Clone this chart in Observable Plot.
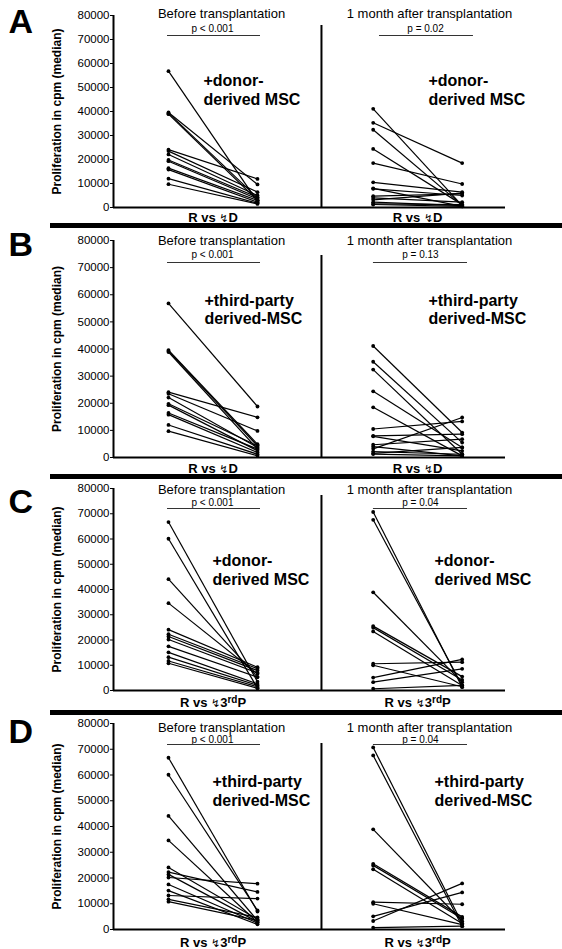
<!DOCTYPE html>
<html><head><meta charset="utf-8">
<script src="https://cdn.jsdelivr.net/npm/d3@7"></script>
<script src="https://cdn.jsdelivr.net/npm/@observablehq/plot@0.6"></script>
<style>
body{margin:0;background:#fff;font-family:"Liberation Sans",Arial,sans-serif;}
#wrap{width:562px;}
.bar{height:5px;background:#000;margin-left:50px;}
svg{display:block}
</style></head><body><div id="wrap"></div>
<script>
const FONT = '"Liberation Sans", Arial, sans-serif';
// ---- text labels ----
const panelLetters = ["A", "B", "C", "D"];
const timeTitles = ["Before transplantation", "1 month after transplantation"];
const yTicks = [0, 10000, 20000, 30000, 40000, 50000, 60000, 70000, 80000];
const yLabel = "Proliferation in cpm (median)";
const xLabels = ["R vs ↯D", "R vs ↯D", "R vs ↯3rdP", "R vs ↯3rdP"];
const annotations = ["+donor-\nderived MSC", "+third-party\nderived-MSC", "+donor-\nderived MSC", "+third-party\nderived-MSC"];
const pBefore = ["p < 0.001", "p < 0.001", "p < 0.001", "p < 0.001"];
const pAfter = ["p = 0.02", "p = 0.13", "p = 0.04", "p = 0.04"];

// ---- values (cpm, median) : responder alone (R) and with MSC ----
const respBefore_AB = [56800, 39600, 39300, 38900, 24100, 23500, 22100, 19800, 19300, 16400, 15800, 12000, 9700];
const A_mscBefore   = [2500, 9600, 4000, 3000, 11900, 6400, 5000, 4300, 3500, 3000, 2200, 1800, 1500];
const B_mscBefore   = [18800, 4900, 4300, 3100, 14800, 9800, 3700, 4300, 2500, 3100, 1850, 1200, 600];

const respAfter_AB = [41100, 35300, 32400, 24400, 18500, 10500, 8000, 7800, 4700, 4000, 3200, 2200, 1500, 1250];
const A_mscAfter   = [800, 18500, 1000, 1200, 9800, 6400, 500, 5000, 5700, 2200, 6000, 800, 1200, 500];
const B_mscAfter   = [9200, 5500, 1200, 3700, 600, 13300, 8600, 2450, 6750, 600, 14750, 1200, 3700, 600];

const respBefore_CD = [66700, 60100, 44100, 34600, 24100, 22300, 21400, 20200, 17500, 15100, 13200, 11700, 10800];
const C_mscBefore   = [3500, 1000, 5300, 6600, 9200, 8600, 7900, 7000, 5300, 2600, 2000, 1500, 900];
const D_mscBefore   = [7000, 7400, 3500, 2800, 4000, 14600, 3000, 17800, 2500, 2000, 12000, 4700, 3500];

const respAfter_CD = [70700, 67600, 38900, 25500, 24900, 23400, 10600, 10000, 5100, 3300, 700];
const C_mscAfter   = [1300, 2000, 3300, 5500, 4200, 2000, 11200, 1500, 12300, 8600, 2000];
const D_mscAfter   = [2300, 1300, 3200, 4900, 4300, 2300, 9800, 1900, 14400, 17900, 1300];

const panels = [
  {rb: respBefore_AB, mb: A_mscBefore, ra: respAfter_AB, ma: A_mscAfter},
  {rb: respBefore_AB, mb: B_mscBefore, ra: respAfter_AB, ma: B_mscAfter},
  {rb: respBefore_CD, mb: C_mscBefore, ra: respAfter_CD, ma: C_mscAfter},
  {rb: respBefore_CD, mb: D_mscBefore, ra: respAfter_CD, ma: D_mscAfter}
];

// ---- layout ----
const slots = {before: [0, 1], after: [2.3, 3.3]};
const xDomain = [-0.618, 3.787];
const dividerX = 1.719;
const layouts = [
  {h: 223, mt: 15, mbot: 16, letterDy: 17, titleDy: -2, pDy: 13, lineDy: 20, annDy: [74, 72.5], annX: [0.393, 2.921], pX: [0.494, 2.888], pLine: [[-0.011, 1.034], [2.371, 3.427]], divExt: 10, labelDy: 10},
  {h: 246, mt: 12, mbot: 17, letterDy: 15, titleDy: 0, pDy: 14, lineDy: 22, annDy: [68.5, 67.5], annX: [0.404, 2.921], pX: [0.494, 2.831], pLine: [[-0.011, 1.034], [2.303, 3.36]], divExt: 15, labelDy: 11},
  {h: 231, mt: 9, mbot: 20, letterDy: 24, titleDy: 1, pDy: 14, lineDy: 20, annDy: [81, 79.5], annX: [0.494, 2.989], pX: [0.494, 2.831], pLine: [[-0.011, 1.034], [2.303, 3.36]], divExt: 7, labelDy: 12},
  {h: 234, mt: 8, mbot: 20, letterDy: 19, titleDy: 4, pDy: 16, lineDy: 21, annDy: [67, 66.5], annX: [0.494, 2.989], pX: [0.494, 2.831], pLine: [[-0.011, 1.034], [2.303, 3.36]], divExt: 20, labelDy: 13}
];
const titleX = [0.596, 2.933];
const labelX = [0.5, 2.8];

function buildPanel(i) {
  const p = panels[i], L = layouts[i];
  const rows = [];
  p.rb.forEach((r, k) => rows.push({t: "before", r, m: p.mb[k]}));
  p.ra.forEach((r, k) => rows.push({t: "after", r, m: p.ma[k]}));
  const pts = rows.flatMap(d => [{x: slots[d.t][0], y: d.r}, {x: slots[d.t][1], y: d.m}]);
  const pl = [{x1: L.pLine[0][0], x2: L.pLine[0][1]}, {x1: L.pLine[1][0], x2: L.pLine[1][1]}];
  const svg = Plot.plot({
    width: 562, height: L.h, marginTop: L.mt, marginBottom: L.mbot, marginLeft: 113, marginRight: 57,
    x: {domain: xDomain, axis: null},
    y: {domain: [0, 80000], axis: null},
    style: {fontFamily: FONT, fontSize: "11px", background: "white", color: "black", overflow: "visible"},
    marks: [
      Plot.axisY(yTicks, {tickFormat: d3.format("d"), tickSize: 3, tickPadding: 1, label: null, fontSize: 11.5}),
      Plot.ruleX([xDomain[0]], {y1: 0, y2: 80000, strokeWidth: 2}),
      Plot.ruleY([0], {strokeWidth: 2}),
      Plot.ruleX([dividerX], {y1: 0, y2: 80000, strokeWidth: 2, insetBottom: -L.divExt}),
      Plot.link(rows, {x1: d => slots[d.t][0], x2: d => slots[d.t][1], y1: "r", y2: "m", stroke: "black", strokeWidth: 1.2}),
      Plot.dot(pts, {x: "x", y: "y", r: 1.9, fill: "black"}),
      Plot.text(timeTitles, {x: titleX, text: d => d, frameAnchor: "top", dy: L.titleDy, lineAnchor: "middle", fontSize: 13}),
      Plot.text([pBefore[i], pAfter[i]], {x: L.pX, text: d => d, frameAnchor: "top", dy: L.pDy, lineAnchor: "middle", fontSize: 10}),
      Plot.ruleY(pl, {y: () => 80000, x1: "x1", x2: "x2", dy: L.lineDy, stroke: "#333", strokeWidth: 1}),
      Plot.text([annotations[i], annotations[i]], {x: L.annX, text: d => d, frameAnchor: "top", dy: L.annDy[0], textAnchor: "start", lineAnchor: "middle", lineHeight: 1.15, fontSize: 16, fontWeight: "bold"}),
      Plot.text([xLabels[i], xLabels[i]], {x: labelX, text: d => d, frameAnchor: "bottom", dy: L.labelDy, lineAnchor: "middle", fontSize: 13, fontWeight: "bold"}),
      Plot.text([yLabel], {frameAnchor: "left", dx: -56, rotate: -90, textAnchor: "middle", lineAnchor: "middle", fontSize: 12, fontWeight: "bold"}),
      Plot.text([panelLetters[i]], {frameAnchor: "top-left", dx: -105, dy: L.letterDy, textAnchor: "start", lineAnchor: "bottom", fontSize: 34, fontWeight: "bold"})
    ]
  });
  // thin lightning glyph and superscript "rd"
  const ns = "http://www.w3.org/2000/svg";
  svg.querySelectorAll("text").forEach(t => {
    const s = t.textContent;
    if (s.includes("↯") && t.children.length === 0) {
      const g = s.indexOf("↯");
      t.textContent = "";
      const a = document.createElementNS(ns, "tspan"); a.textContent = s.slice(0, g);
      const b = document.createElementNS(ns, "tspan"); b.textContent = "↯";
      b.setAttribute("font-weight", "normal"); b.setAttribute("font-family", "DejaVu Sans"); b.setAttribute("font-size", "11");
      t.append(a, b);
      const rest = s.slice(g + 1);
      const ri = rest.indexOf("rd");
      if (ri >= 0) {
        const c = document.createElementNS(ns, "tspan"); c.textContent = rest.slice(0, ri);
        const d = document.createElementNS(ns, "tspan"); d.textContent = "rd"; d.setAttribute("dy", "-4"); d.setAttribute("font-size", "10");
        const e = document.createElementNS(ns, "tspan"); e.textContent = rest.slice(ri + 2); e.setAttribute("dy", "4");
        t.append(c, d, e);
      } else {
        const c = document.createElementNS(ns, "tspan"); c.textContent = rest;
        t.append(c);
      }
    }
  });
  return svg;
}

const wrap = document.getElementById("wrap");
for (let i = 0; i < 4; i++) {
  if (i > 0) { const bar = document.createElement("div"); bar.className = "bar"; wrap.appendChild(bar); }
  wrap.appendChild(buildPanel(i));
}
</script></body></html>
